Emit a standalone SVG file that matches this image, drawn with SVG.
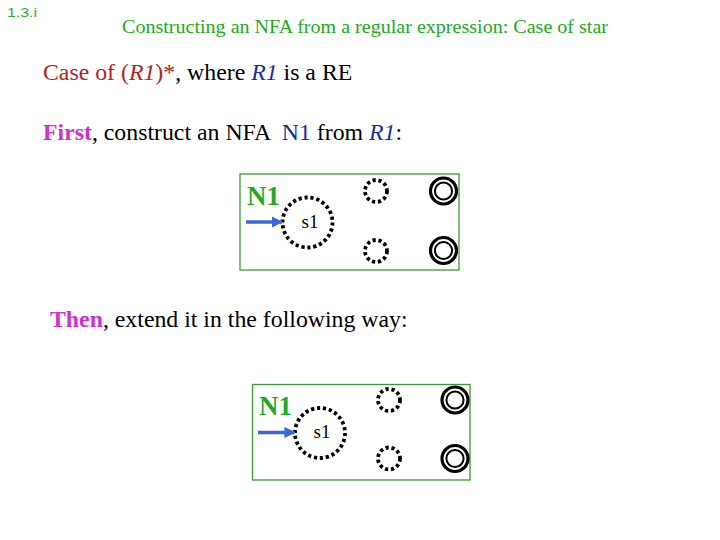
<svg xmlns="http://www.w3.org/2000/svg" width="720" height="540" viewBox="0 0 720 540">
<defs>
<style>
.serif{font-family:"Liberation Serif","Times New Roman",serif;white-space:pre}
.box{fill:none;stroke:#3a9a3a;stroke-width:1.3}
.dot{fill:none;stroke:#000;stroke-width:3.8;stroke-dasharray:3.2 2.8}
.acc{fill:none;stroke:#000}
.n1{font-family:"Liberation Serif",serif;font-weight:bold;font-size:27px;fill:#22aa22}
.lbl{font-family:"Liberation Serif",serif;font-size:19px;fill:#000}
.arr{stroke:#3a66dd;stroke-width:3.5;fill:none}
</style>
<marker id="ah" viewBox="0 0 10 10" refX="9" refY="5" markerWidth="3.2" markerHeight="3.2" orient="auto" markerUnits="strokeWidth">
<path d="M0,0 L10,5 L0,10 z" fill="#3a66dd"/>
</marker>
</defs>
<rect width="720" height="540" fill="#fff"/>
<text x="7" y="17" font-family="Liberation Sans,Arial,sans-serif" font-size="13" fill="#33aa33" textLength="30" lengthAdjust="spacingAndGlyphs">1.3.i</text>
<text x="122" y="33" class="serif" font-size="19" fill="#22aa22" textLength="486" lengthAdjust="spacingAndGlyphs">Constructing an NFA from a regular expression: Case of star</text>
<text x="43" y="80" class="serif" font-size="23.8" xml:space="preserve"><tspan fill="#b22222">Case of (<tspan font-style="italic">R1</tspan>)*</tspan><tspan fill="#000">, where </tspan><tspan fill="#1a2aa0" font-style="italic">R1</tspan><tspan fill="#000"> is a RE</tspan></text>
<text x="43" y="140" class="serif" font-size="23.8" xml:space="preserve"><tspan fill="#cc33cc" font-weight="bold">First</tspan><tspan fill="#000">, construct an NFA  </tspan><tspan fill="#1a2aa0">N1</tspan><tspan fill="#000"> from </tspan><tspan fill="#1a2aa0" font-style="italic">R1</tspan><tspan fill="#000">:</tspan></text>
<text x="50" y="327" class="serif" font-size="23.8" xml:space="preserve"><tspan fill="#cc33cc" font-weight="bold">Then</tspan><tspan fill="#000">, extend it in the following way:</tspan></text>

<g id="nfa1">
<rect class="box" x="240" y="174" width="219" height="96"/>
<text class="n1" x="247" y="205">N1</text>
<g id="n1-s1"><circle class="dot" cx="307.5" cy="222.5" r="25"/><text class="lbl" x="310" y="228" text-anchor="middle">s1</text></g>
<g id="n1-q1"><circle class="dot" cx="376" cy="191" r="11"/></g>
<g id="n1-q2"><circle class="dot" cx="376" cy="251" r="11"/></g>
<g id="n1-f1"><circle class="acc" cx="443.5" cy="191" r="13" stroke-width="3.2"/><circle class="acc" cx="443.5" cy="191" r="8.6" stroke-width="2"/></g>
<g id="n1-f2"><circle class="acc" cx="443.5" cy="250.5" r="13" stroke-width="3.2"/><circle class="acc" cx="443.5" cy="250.5" r="8.6" stroke-width="2"/></g>
</g>

<g id="nfa2">
<rect class="box" x="252.5" y="384.5" width="217.5" height="95.5"/>
<text class="n1" x="259" y="415">N1</text>
<g id="n2-s1"><circle class="dot" cx="320" cy="433" r="25"/><text class="lbl" x="322" y="438" text-anchor="middle">s1</text></g>
<g id="n2-q1"><circle class="dot" cx="389" cy="400" r="11"/></g>
<g id="n2-q2"><circle class="dot" cx="389" cy="458.5" r="11"/></g>
<g id="n2-f1"><circle class="acc" cx="455" cy="400" r="13" stroke-width="3.2"/><circle class="acc" cx="455" cy="400" r="8.6" stroke-width="2"/></g>
<g id="n2-f2"><circle class="acc" cx="455" cy="458.5" r="13" stroke-width="3.2"/><circle class="acc" cx="455" cy="458.5" r="8.6" stroke-width="2"/></g>
</g>

<g id="connectors">
<line class="arr" x1="246" y1="222" x2="282" y2="222" marker-end="url(#ah)"/>
<line class="arr" x1="258" y1="432.5" x2="294.5" y2="432.5" marker-end="url(#ah)"/>
</g>
</svg>
